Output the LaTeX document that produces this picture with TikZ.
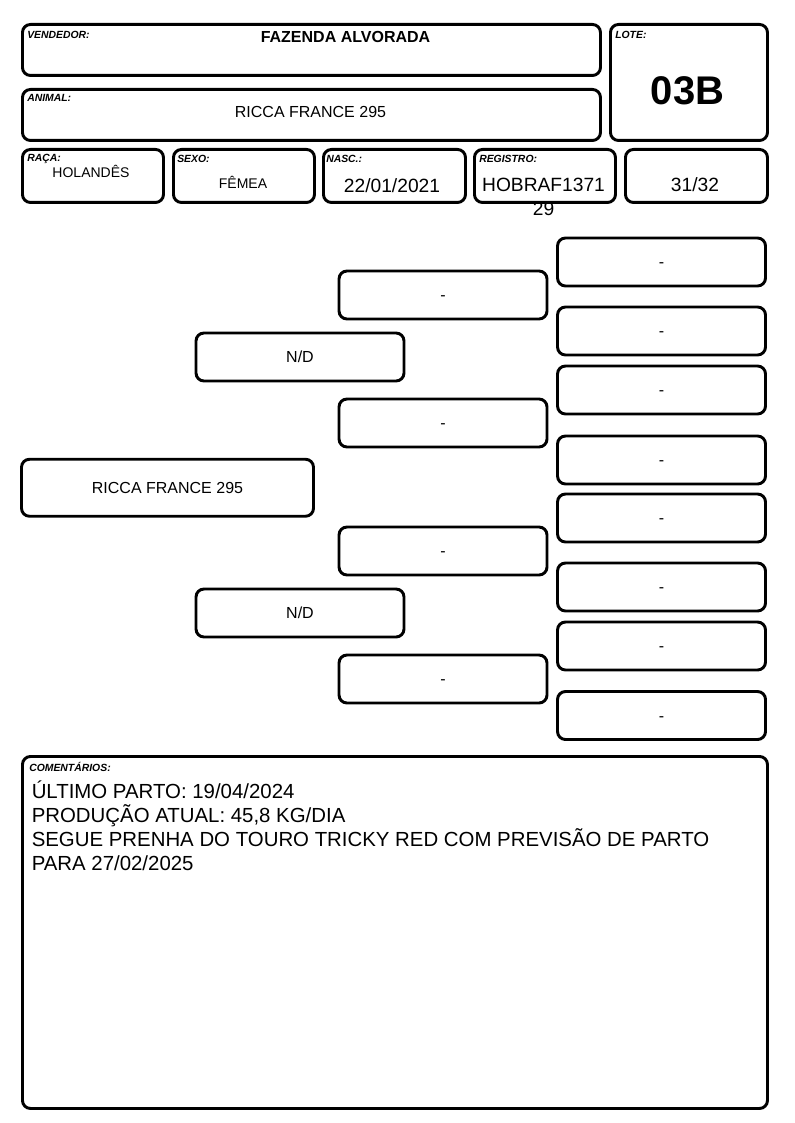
\documentclass[tikz,border=0pt]{standalone}
\usepackage{fontspec}
\setmainfont{Liberation Sans}
\tikzset{
  ficha/.style = {draw, line width=2.2pt, rounded corners=6pt, inner sep=0pt},
  rotulo/.style = {anchor=base west, inner sep=0pt, font=\fontsize{7.8pt}{9pt}\selectfont\bfseries\itshape},
  valor/.style = {anchor=base, inner sep=0pt},
  linha/.style = {anchor=base west, inner sep=0pt, font=\fontsize{15.3pt}{17.8pt}\selectfont},
  pbox/.style = {ficha, minimum width=156pt, minimum height=36pt, text height=8.6pt, text depth=0pt,
    font=\fontsize{12pt}{14pt}\selectfont}
}
\begin{document}
\begin{tikzpicture}[x = 0.75pt, y = -0.75pt]
	\useasboundingbox (0,0) rectangle (794,1123);
	% cabecalho
	\node[ficha, anchor=north west, minimum width=433.5pt, minimum height=38.25pt] (vendedor) at (21,23) {};
	\node[ficha, anchor=north west, minimum width=433.5pt, minimum height=38.25pt] (animal) at (21,88) {};
	\node[ficha, anchor=north west, minimum width=117.75pt, minimum height=87pt] (lote) at (609,23) {};
	\node[ficha, anchor=north west, minimum width=105.75pt, minimum height=39.75pt] (raca) at (21,148) {};
	\node[ficha, anchor=north west, minimum width=105.75pt, minimum height=39.75pt] (sexo) at (172,148) {};
	\node[ficha, anchor=north west, minimum width=106.5pt, minimum height=39.75pt] (nasc) at (322,148) {};
	\node[ficha, anchor=north west, minimum width=105.75pt, minimum height=39.75pt] (registro) at (473,148) {};
	\node[ficha, anchor=north west, minimum width=106.5pt, minimum height=39.75pt] (grau) at (624,148) {};
	\node[rotulo] (tvendedor) at (27,39) {VENDEDOR:};
	\node[rotulo] (tanimal) at (27,102) {ANIMAL:};
	\node[rotulo] (tlote) at (615,39) {LOTE:};
	\node[rotulo] (traca) at (27,162) {RAÇA:};
	\node[rotulo] (tsexo) at (177,163) {SEXO:};
	\node[rotulo] (tnasc) at (326,163) {NASC.:};
	\node[rotulo] (tregistro) at (479,163) {REGISTRO:};
	\node[valor, font=\fontsize{12pt}{14pt}\selectfont\bfseries] (vvendedor) at (345.5,43) {FAZENDA ALVORADA};
	\node[valor, font=\fontsize{12pt}{14pt}\selectfont] (vanimal) at (310.5,118) {RICCA FRANCE 295};
	\node[valor, font=\fontsize{30pt}{34pt}\selectfont\bfseries] (vlote) at (687.5,105) {03B};
	\node[valor, font=\fontsize{10.5pt}{12pt}\selectfont] (vraca) at (91,178) {HOLANDÊS};
	\node[valor, font=\fontsize{10.5pt}{12pt}\selectfont] (vsexo) at (243,189) {FÊMEA};
	\node[valor, font=\fontsize{14.4pt}{17pt}\selectfont] (vnasc) at (392,193) {22/01/2021};
	\node[valor, font=\fontsize{14.4pt}{17pt}\selectfont] (vregistro) at (543.5,192) {HOBRAF1371};
	\node[valor, font=\fontsize{14.4pt}{17pt}\selectfont] (vregistrob) at (543.5,215) {29};
	\node[valor, font=\fontsize{14.4pt}{17pt}\selectfont] (vgrau) at (695,192) {31/32};
	% genealogia
	\node[pbox, minimum width=219pt, minimum height=42.75pt] (raiz) at (167.5,487.75) {RICCA FRANCE 295};
	\node[pbox] (pai) at (300,357) {N/D};
	\node[pbox] (mae) at (300,613) {N/D};
	\foreach \y [count=\i] in {295,423,551,679}
		\node[pbox] (avo\i) at (443,\y) {-};
	\foreach \y [count=\i] in {262,331,390,460,518,587,646,715.5}
		\node[pbox] (bisavo\i) at (661.5,\y) {-};
	% comentarios
	\node[ficha, anchor=north west, minimum width=558.75pt, minimum height=264pt] (coment) at (21,755) {};
	\node[rotulo] (tcoment) at (29,771) {COMENTÁRIOS:};
	\node[linha] (coment1) at (31.5,798) {ÚLTIMO PARTO: 19/04/2024};
	\node[linha] (coment2) at (31.5,822) {PRODUÇÃO ATUAL: 45,8 KG/DIA};
	\node[linha] (coment3) at (31.5,846) {SEGUE PRENHA DO TOURO TRICKY RED COM PREVISÃO DE PARTO};
	\node[linha] (coment4) at (31.5,870) {PARA 27/02/2025};
\end{tikzpicture}
\end{document}
